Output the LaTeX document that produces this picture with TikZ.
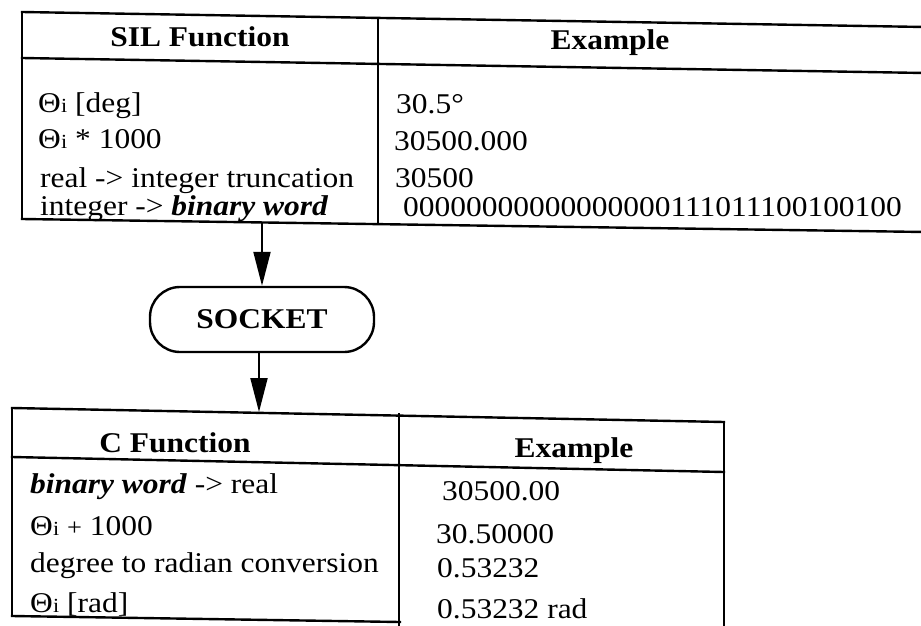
\documentclass[tikz,border=0pt]{standalone}
\usepackage{fontspec}
\setmainfont[FakeStretch=1.1]{Liberation Serif}
\usetikzlibrary{arrows.meta}
\newcommand\thi{Θ\kern0.3pt{\fontsize{20}{20}\selectfont i}}
\begin{document}
\begin{tikzpicture}[x=1pt,y=-1pt,
  tline/.style={line width=2.4pt, line cap=rect},
  txt/.style={anchor=base west, inner sep=0pt, font=\fontsize{28.6}{31}\selectfont},
  hdr/.style={anchor=base, inner sep=0pt, font=\fontsize{28.6}{31}\selectfont\bfseries},
  conn/.style={line width=2pt, -{Triangle[length=34pt,width=17pt]}},
  sock/.style={draw, line width=2.4pt, rounded corners=30pt, minimum width=224pt, minimum height=65pt, inner sep=0pt, font=\fontsize{28.6}{31}\selectfont\bfseries}]
\useasboundingbox (0,0) rectangle (921,626);
% ---------- top table ----------
\draw[tline] (22,12) -- (925,27);
\draw[tline] (22,58) -- (925,73);
\draw[tline] (22,219) -- (925,232);
\draw[tline] (22,12) -- (22,219);
\draw[tline] (378,18) -- (378,224);
\node[hdr] (silh) at (200,47) {SIL Function};
\node[hdr] (exh1) at (610,50) {Example};
\node[txt] (s1) at (38,112) {\thi{} [deg]};
\node[txt] (s2) at (38,148) {\thi{} * 1000};
\node[txt] (s3) at (40,187) {real -> integer truncation};
\node[txt] (s4) at (40,215) {integer -> \textbf{\textit{binary word}}};
\node[txt] (e1) at (396,113) {30.5°};
\node[txt] (e2) at (394,150) {30500.000};
\node[txt] (e3) at (395,187) {30500};
\node[txt] (e4) at (403,216) {00000000000000000111011100100100};
% ---------- socket ----------
\coordinate (silbot) at (262,223);
\node[sock] (socket) at (262,319.5) {SOCKET};
\coordinate (cftop) at (259,412);
\draw[conn] (silbot) -- (socket.north);
\draw[conn] (socket.south -| cftop) -- (cftop);
% ---------- bottom table ----------
\draw[tline] (12,408) -- (724,422);
\draw[tline] (12,457) -- (724,472);
\draw[tline] (12,616) -- (400,622);
\draw[tline] (12,408) -- (12,616);
\draw[tline] (399,414) -- (399,630);
\draw[tline] (724,422) -- (724,630);
\node[hdr] (cfh) at (175,452) {C Function};
\node[hdr] (exh2) at (574,457) {Example};
\node[txt] (c1) at (30,493) {\textbf{\textit{binary word}} -> real};
\node[txt] (c2) at (30,535) {\thi{} {\fontsize{24}{24}\selectfont +} 1000};
\node[txt] (c3) at (30,572) {degree to radian conversion};
\node[txt] (c4) at (30,612) {\thi{} [rad]};
\node[txt] (x1) at (442,500) {30500.00};
\node[txt] (x2) at (436,543) {30.50000};
\node[txt] (x3) at (437,577) {0.53232};
\node[txt] (x4) at (437,618) {0.53232 rad};
\end{tikzpicture}
\end{document}
